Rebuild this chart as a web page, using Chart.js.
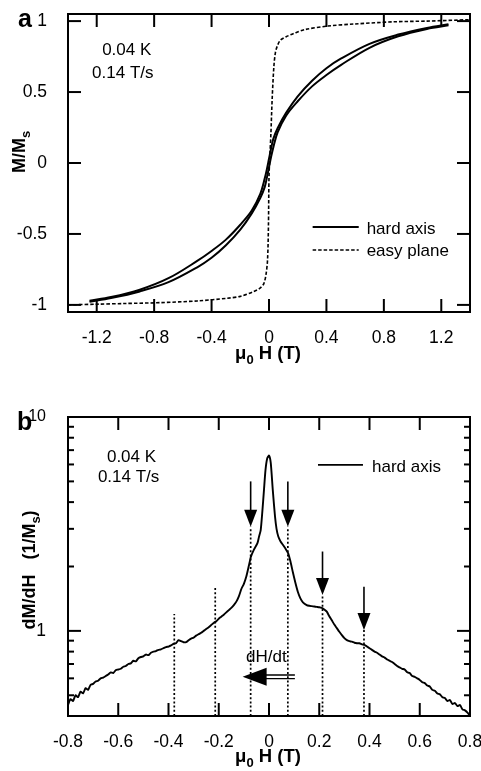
<!DOCTYPE html>
<html><head><meta charset="utf-8">
<script src="https://cdn.jsdelivr.net/npm/chart.js@4.4.1/dist/chart.umd.min.js"></script>
<style>html,body{margin:0;padding:0;background:#fff;}canvas{display:block;}</style>
</head><body>
<canvas id="ca" width="481" height="385"></canvas>
<canvas id="cb" width="481" height="386"></canvas>
<script>
// ---------- Panel a data ----------
const hardDownH = [1.25, 1.1, 0.9, 0.7, 0.5, 0.4, 0.3, 0.2, 0.12, 0.06, 0.03, 0.015, 0, -0.015, -0.03, -0.06, -0.12, -0.2, -0.3, -0.4, -0.5, -0.7, -0.9, -1.1, -1.25];
const hardDownM = [0.978, 0.952, 0.905, 0.84, 0.735, 0.668, 0.58, 0.47, 0.355, 0.245, 0.17, 0.105, 0.03, -0.045, -0.11, -0.215, -0.335, -0.435, -0.54, -0.62, -0.69, -0.812, -0.893, -0.945, -0.97];
const hardUpH = [-1.25, -1.1, -0.9, -0.7, -0.5, -0.4, -0.3, -0.2, -0.12, -0.06, -0.03, -0.015, 0, 0.015, 0.03, 0.06, 0.12, 0.2, 0.3, 0.4, 0.5, 0.7, 0.9, 1.1, 1.25];
const hardUpM = [-0.978, -0.952, -0.905, -0.84, -0.735, -0.668, -0.58, -0.47, -0.355, -0.245, -0.17, -0.105, -0.03, 0.045, 0.11, 0.215, 0.335, 0.435, 0.54, 0.62, 0.69, 0.812, 0.893, 0.945, 0.97];
const easyH = [-1.4, -1.2, -1.0, -0.757, -0.5, -0.29, -0.2, -0.106, -0.06, -0.036, -0.02, -0.01, -0.004, 0, 0.006, 0.013, 0.022, 0.034, 0.045, 0.06, 0.08, 0.12, 0.173, 0.25, 0.41, 0.6, 0.87, 1.1, 1.4];
const easyM = [-1.0, -0.995, -0.99, -0.984, -0.972, -0.953, -0.94, -0.906, -0.88, -0.85, -0.78, -0.68, -0.45, -0.1, 0.05, 0.2, 0.45, 0.68, 0.78, 0.83, 0.866, 0.89, 0.913, 0.94, 0.965, 0.98, 0.995, 1.0, 1.01];
const xTicksA = [-1.2, -0.8, -0.4, 0, 0.4, 0.8, 1.2];
const xTickLabelsA = ['-1.2', '-0.8', '-0.4', '0', '0.4', '0.8', '1.2'];
const yTicksA = [-1, -0.5, 0, 0.5, 1];
const yTickLabelsA = ['-1', '-0.5', '0', '0.5', '1'];

// ---------- Panel b data ----------
const dmdhH = [-0.80,-0.79,-0.78,-0.77,-0.76,-0.75,-0.74,-0.73,-0.72,-0.71,-0.70,-0.69,-0.68,-0.67,-0.66,-0.65,-0.64,-0.63,-0.62,-0.61,-0.60,-0.59,-0.58,-0.57,-0.56,-0.55,-0.54,-0.53,-0.52,-0.51,-0.50,-0.49,-0.48,-0.47,-0.46,-0.45,-0.44,-0.43,-0.42,-0.41,-0.40,-0.39,-0.38,-0.37,-0.36,-0.35,-0.34,-0.33,-0.32,-0.31,-0.30,-0.29,-0.28,-0.27,-0.26,-0.25,-0.24,-0.23,-0.22,-0.21,-0.20,-0.19,-0.18,-0.17,-0.16,-0.15,-0.14,-0.13,-0.12,-0.11,-0.10,-0.09,-0.08,-0.072,-0.06,-0.046,-0.04,-0.033,-0.027,-0.02,-0.014,-0.007,0,0.007,0.015,0.024,0.03,0.037,0.046,0.056,0.066,0.076,0.085,0.095,0.105,0.115,0.125,0.135,0.15,0.16,0.17,0.18,0.19,0.20,0.21,0.22,0.23,0.24,0.25,0.26,0.27,0.28,0.29,0.30,0.31,0.32,0.33,0.34,0.35,0.36,0.37,0.38,0.39,0.40,0.41,0.42,0.43,0.44,0.45,0.46,0.47,0.48,0.49,0.50,0.51,0.52,0.53,0.54,0.55,0.56,0.57,0.58,0.59,0.60,0.61,0.62,0.63,0.64,0.65,0.66,0.67,0.68,0.69,0.70,0.71,0.72,0.73,0.74,0.75,0.76,0.77,0.78,0.79,0.80];
const dmdhV = [0.45,0.48,0.47,0.50,0.49,0.52,0.51,0.54,0.53,0.56,0.565,0.58,0.585,0.60,0.605,0.615,0.625,0.64,0.635,0.655,0.66,0.665,0.68,0.685,0.70,0.705,0.725,0.72,0.745,0.755,0.76,0.775,0.77,0.79,0.80,0.805,0.815,0.82,0.83,0.84,0.845,0.855,0.87,0.875,0.905,0.895,0.885,0.885,0.905,0.92,0.93,0.95,0.965,0.98,1.00,1.02,1.04,1.065,1.09,1.11,1.14,1.165,1.19,1.22,1.25,1.28,1.32,1.37,1.45,1.57,1.66,1.80,2.02,2.22,2.40,2.57,2.75,2.96,3.55,4.56,5.65,6.41,6.6,6.1,4.56,3.42,3.0,2.76,2.62,2.52,2.42,2.31,2.12,1.88,1.68,1.52,1.42,1.36,1.32,1.31,1.305,1.30,1.295,1.29,1.28,1.26,1.23,1.17,1.12,1.07,1.03,0.99,0.955,0.925,0.905,0.895,0.89,0.88,0.875,0.875,0.865,0.86,0.845,0.83,0.815,0.80,0.79,0.775,0.76,0.75,0.735,0.725,0.715,0.70,0.685,0.675,0.665,0.66,0.64,0.635,0.615,0.61,0.60,0.59,0.575,0.57,0.555,0.55,0.53,0.525,0.51,0.505,0.49,0.485,0.47,0.475,0.455,0.46,0.445,0.45,0.43,0.425,0.415,0.40];
const guideX = [-0.377, -0.214, -0.073, 0.075, 0.213, 0.378];
const guideTop = [1.20, 1.62, 3.07, 3.07, 1.47, 1.01];
const arrowX = [-0.073, 0.075, 0.213, 0.378];
const arrowTop = [5.0, 5.0, 2.35, 1.61];
const arrowTip = [3.07, 3.07, 1.47, 1.01];
const xTicksB = [-0.8, -0.6, -0.4, -0.2, 0, 0.2, 0.4, 0.6, 0.8];
const xTickLabelsB = ['-0.8', '-0.6', '-0.4', '-0.2', '0', '0.2', '0.4', '0.6', '0.8'];
const yTicksB = [0.5, 0.6, 0.7, 0.8, 0.9, 1, 2, 3, 4, 5, 6, 7, 8, 9, 10];
const yMajorB = [1, 10];

const FONT = "'Liberation Sans', Arial, Helvetica, sans-serif";
const pts = (xs, ys) => xs.map((x, i) => ({x: x, y: ys[i]}));

function line(ctx, x1, y1, x2, y2) { ctx.beginPath(); ctx.moveTo(x1, y1); ctx.lineTo(x2, y2); ctx.stroke(); }

// Rich text with subscripts: parts = [[text, isSub], ...]
function drawRich(ctx, parts, x, y, size, subSize, bold, rotate) {
  const w8 = bold ? 'bold ' : '';
  let total = 0;
  parts.forEach(p => { ctx.font = w8 + (p[1] ? subSize : size) + 'px ' + FONT; total += ctx.measureText(p[0]).width; });
  ctx.save();
  ctx.translate(x, y);
  if (rotate) ctx.rotate(-Math.PI / 2);
  ctx.textBaseline = 'alphabetic'; ctx.textAlign = 'left'; ctx.fillStyle = '#000';
  let cx = -total / 2;
  parts.forEach(p => {
    ctx.font = w8 + (p[1] ? subSize : size) + 'px ' + FONT;
    ctx.fillText(p[0], cx, p[1] ? 5 : 0);
    cx += ctx.measureText(p[0]).width;
  });
  ctx.restore();
}

const frameTicks = {
  id: 'frameTicks',
  afterDatasetsDraw(chart, args, opts) {
    const {ctx, chartArea: a} = chart;
    const xs = chart.scales.x, ys = chart.scales.y;
    ctx.save();
    ctx.strokeStyle = '#000'; ctx.lineWidth = 2; ctx.lineCap = 'butt';
    xs.ticks.forEach(t => {
      const px = xs.getPixelForValue(t.value);
      line(ctx, px, a.top, px, a.top + 13);
      line(ctx, px, a.bottom, px, a.bottom - 13);
    });
    ys.ticks.forEach(t => {
      const py = ys.getPixelForValue(t.value);
      const len = (opts.yMajor && !opts.yMajor.includes(t.value)) ? 6 : 13;
      line(ctx, a.left, py, a.left + len, py);
      line(ctx, a.right, py, a.right - len, py);
    });
    ctx.lineWidth = 2;
    ctx.strokeRect(a.left, a.top, a.right - a.left, a.bottom - a.top);
    ctx.restore();
  }
};

// ---------- annotations ----------
const annoA = {
  id: 'annoA',
  afterDraw(chart) {
    const {ctx} = chart; const x = chart.scales.x, y = chart.scales.y;
    ctx.save();
    ctx.fillStyle = '#000'; ctx.strokeStyle = '#000';
    ctx.font = '17px ' + FONT; ctx.textBaseline = 'alphabetic'; ctx.textAlign = 'left';
    ctx.fillText('0.04 K', x.getPixelForValue(-1.162), y.getPixelForValue(0.761));
    ctx.fillText('0.14 T/s', x.getPixelForValue(-1.232), y.getPixelForValue(0.599));
    // legend
    ctx.lineWidth = 2;
    line(ctx, x.getPixelForValue(0.304), y.getPixelForValue(-0.451), x.getPixelForValue(0.625), y.getPixelForValue(-0.451));
    ctx.fillText('hard axis', x.getPixelForValue(0.68), y.getPixelForValue(-0.5));
    ctx.lineWidth = 1.5; ctx.setLineDash([3.5, 2]);
    line(ctx, x.getPixelForValue(0.304), y.getPixelForValue(-0.613), x.getPixelForValue(0.625), y.getPixelForValue(-0.613));
    ctx.setLineDash([]);
    ctx.fillText('easy plane', x.getPixelForValue(0.68), y.getPixelForValue(-0.655));
    // panel label + titles
    ctx.font = 'bold 25px ' + FONT;
    ctx.fillText('a', 18, 27);
    ctx.restore();
    drawRich(ctx, [['μ', false], ['0', true], [' H (T)', false]], 268, 359, 18.5, 13, true, false);
    drawRich(ctx, [['M/M', false], ['s', true]], 25, 152, 18, 13, true, true);
  }
};

const annoB = {
  id: 'annoB',
  afterDraw(chart) {
    const {ctx} = chart; const x = chart.scales.x, y = chart.scales.y;
    ctx.save();
    ctx.fillStyle = '#000'; ctx.strokeStyle = '#000';
    ctx.font = '17px ' + FONT; ctx.textBaseline = 'alphabetic'; ctx.textAlign = 'left';
    ctx.fillText('0.04 K', x.getPixelForValue(-0.645), y.getPixelForValue(6.16));
    ctx.fillText('0.14 T/s', x.getPixelForValue(-0.681), y.getPixelForValue(4.97));
    ctx.lineWidth = 1.6;
    line(ctx, x.getPixelForValue(0.195), y.getPixelForValue(5.97), x.getPixelForValue(0.374), y.getPixelForValue(5.97));
    ctx.fillText('hard axis', x.getPixelForValue(0.41), y.getPixelForValue(5.53));
    // vertical arrows
    arrowX.forEach((ax, i) => {
      const px = x.getPixelForValue(ax);
      const top = y.getPixelForValue(arrowTop[i]);
      const tip = y.getPixelForValue(arrowTip[i]);
      ctx.lineWidth = 1.6;
      line(ctx, px, top, px, tip - 15);
      ctx.beginPath(); ctx.moveTo(px - 6.5, tip - 17); ctx.lineTo(px + 6.5, tip - 17); ctx.lineTo(px, tip); ctx.closePath(); ctx.fill();
    });
    // dH/dt arrow
    ctx.fillText('dH/dt', x.getPixelForValue(-0.0915), y.getPixelForValue(0.716));
    const ay = y.getPixelForValue(0.61);
    const tipX = x.getPixelForValue(-0.105), baseX = x.getPixelForValue(-0.0095), endX = x.getPixelForValue(0.103);
    ctx.beginPath(); ctx.moveTo(tipX, ay); ctx.lineTo(baseX, ay - 9); ctx.lineTo(baseX, ay + 9); ctx.closePath(); ctx.fill();
    ctx.lineWidth = 1.3;
    line(ctx, baseX - 4, ay - 1.8, endX, ay - 1.8);
    line(ctx, baseX - 4, ay + 1.8, endX, ay + 1.8);
    ctx.font = 'bold 25px ' + FONT;
    ctx.fillText('b', 17, 45);
    ctx.restore();
    drawRich(ctx, [['μ', false], ['0', true], [' H (T)', false]], 268, 377, 18.5, 13, true, false);
    drawRich(ctx, [['dM/dH   (1/M', false], ['s', true], [')', false]], 35, 185, 18, 13, true, true);
  }
};

Chart.defaults.font.family = FONT;
Chart.defaults.color = '#000';

new Chart(document.getElementById('ca'), {
  type: 'scatter',
  data: { datasets: [
    { data: pts(hardDownH, hardDownM), showLine: true, borderColor: '#000', borderWidth: 2, pointRadius: 0, tension: 0.35, fill: false },
    { data: pts(hardUpH, hardUpM), showLine: true, borderColor: '#000', borderWidth: 2, pointRadius: 0, tension: 0.35, fill: false },
    { data: pts(easyH, easyM), showLine: true, borderColor: '#000', borderWidth: 1.6, borderDash: [3.5, 2], pointRadius: 0, tension: 0.3, fill: false }
  ]},
  options: {
    responsive: false, animation: false, devicePixelRatio: 1,
    layout: { padding: { left: 0, right: 11, top: 14, bottom: 0 } },
    plugins: { legend: { display: false }, tooltip: { enabled: false }, frameTicks: {} },
    scales: {
      x: { type: 'linear', min: -1.4, max: 1.4, grid: { display: false }, border: { display: false },
        ticks: { padding: 8, autoSkip: false, maxRotation: 0, font: { size: 17.5 }, color: '#000',
          callback: (v, i) => xTickLabelsA[i] },
        afterBuildTicks: s => { s.ticks = xTicksA.map(v => ({ value: v })); },
        afterFit: s => { s.height = 73; s.paddingLeft = 0; s.paddingRight = 0; } },
      y: { type: 'linear', min: -1.05, max: 1.05, grid: { display: false }, border: { display: false },
        ticks: { padding: 13, autoSkip: false, font: { size: 17.5 }, color: '#000',
          callback: (v, i) => yTickLabelsA[i] },
        afterBuildTicks: s => { s.ticks = yTicksA.map(v => ({ value: v })); },
        afterFit: s => { s.width = 68; s.paddingTop = 0; s.paddingBottom = 0; } }
    }
  },
  plugins: [frameTicks, annoA]
});

const guideSets = guideX.map((gx, i) => ({
  data: [{ x: gx, y: 0.4 }, { x: gx, y: guideTop[i] }], showLine: true, borderColor: '#000',
  borderWidth: 1.7, borderDash: [2, 2.2], pointRadius: 0, fill: false
}));

new Chart(document.getElementById('cb'), {
  type: 'scatter',
  data: { datasets: [
    { data: pts(dmdhH, dmdhV), showLine: true, borderColor: '#000', borderWidth: 1.9, pointRadius: 0, tension: 0.2, fill: false }
  ].concat(guideSets) },
  options: {
    responsive: false, animation: false, devicePixelRatio: 1,
    layout: { padding: { left: 0, right: 11, top: 32, bottom: 0 } },
    plugins: { legend: { display: false }, tooltip: { enabled: false }, frameTicks: { yMajor: yMajorB } },
    scales: {
      x: { type: 'linear', min: -0.8, max: 0.8, grid: { display: false }, border: { display: false },
        ticks: { padding: 8, autoSkip: false, maxRotation: 0, font: { size: 17.5 }, color: '#000',
          callback: (v, i) => xTickLabelsB[i] },
        afterBuildTicks: s => { s.ticks = xTicksB.map(v => ({ value: v })); },
        afterFit: s => { s.height = 55; s.paddingLeft = 0; s.paddingRight = 0; } },
      y: { type: 'logarithmic', min: 0.4, max: 10, grid: { display: false }, border: { display: false },
        ticks: { padding: 14, autoSkip: false, color: '#000',
          font: c => ({ size: (c.tick && c.tick.value === 10) ? 16 : 17.5 }),
          callback: (v) => (v === 1 ? '1' : (v === 10 ? '10' : '')) },
        afterBuildTicks: s => { s.ticks = yTicksB.map(v => ({ value: v, major: yMajorB.includes(v) })); },
        afterFit: s => { s.width = 68; s.paddingTop = 0; s.paddingBottom = 0; } }
    }
  },
  plugins: [frameTicks, annoB]
});
</script>
</body></html>
